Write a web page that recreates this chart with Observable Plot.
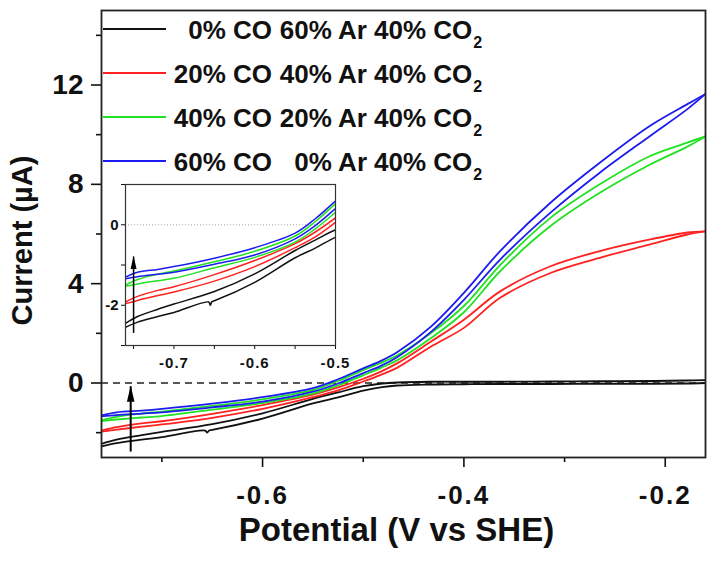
<!DOCTYPE html>
<html><head><meta charset="utf-8">
<script src="https://cdn.jsdelivr.net/npm/d3@7"></script>
<script src="https://cdn.jsdelivr.net/npm/@observablehq/plot@0.6"></script>
<style>
body{margin:0;background:#fff;}
#wrap{position:relative;width:714px;height:568px;font-family:"Liberation Sans",Arial,sans-serif;}
#main{position:absolute;left:0;top:0;}
#inset{position:absolute;left:85px;top:180px;}
#legend{position:absolute;left:103px;top:7px;display:grid;grid-template-columns:63px 106px 95px auto;grid-auto-rows:44px;align-items:center;font-weight:bold;font-size:26px;color:#111;white-space:nowrap;line-height:1;}
#legend .sw{height:2px;width:63px;}
#legend .c1,#legend .c2{text-align:right;padding-top:2px;}
#legend .c3{padding-left:7px;padding-top:2px;}
#legend .sub{font-size:16px;position:relative;top:9px;margin-left:1px;}
#main g[aria-label="x-axis tick label"] text{letter-spacing:2px;}
#inset g[aria-label="x-axis tick label"] text{letter-spacing:1px;}
</style></head>
<body><div id="wrap"><div id="main"></div><div id="inset"></div><div id="legend"></div></div>
<script>
// ---- data ----
const potential = [-0.76, -0.745, -0.72, -0.70, -0.65, -0.60, -0.55, -0.525, -0.50, -0.483, -0.466, -0.433, -0.40, -0.364, -0.314, -0.265, -0.215, -0.178, -0.16];
const blackFwd = [-2.45, -2.28, -2.10, -1.97, -1.66, -1.22, -0.64, -0.38, -0.13, -0.03, 0.02, 0.05, 0.05, 0.05, 0.06, 0.07, 0.08, 0.10, 0.12];
const blackRev = [-2.55, -2.42, -2.28, -2.18, -1.89, -1.43, -0.82, -0.58, -0.31, -0.18, -0.10, -0.06, -0.05, -0.04, -0.04, -0.03, -0.03, -0.02, 0.00];
const blackSpikeV = [-0.657, -0.655, -0.653];
const blackSpikeI = [-1.92, -2.00, -1.91];
const redFwd = [-1.92, -1.78, -1.63, -1.54, -1.24, -0.89, -0.47, -0.18, 0.17, 0.45, 0.80, 1.66, 2.55, 3.69, 4.70, 5.31, 5.78, 6.06, 6.11];
const redRev = [-1.96, -1.88, -1.76, -1.67, -1.40, -1.04, -0.57, -0.30, 0.06, 0.32, 0.62, 1.46, 2.22, 3.43, 4.43, 5.04, 5.58, 5.98, 6.11];
const greenFwd = [-1.50, -1.36, -1.23, -1.15, -0.92, -0.66, -0.28, 0.08, 0.52, 0.80, 1.12, 2.00, 3.10, 4.75, 6.65, 8.00, 9.14, 9.68, 9.93];
const greenRev = [-1.53, -1.47, -1.39, -1.33, -1.07, -0.81, -0.43, -0.10, 0.31, 0.60, 0.92, 1.80, 2.85, 4.50, 6.32, 7.66, 8.80, 9.52, 9.93];
const blueFwd = [-1.30, -1.18, -1.11, -1.04, -0.83, -0.57, -0.21, 0.15, 0.59, 0.88, 1.25, 2.26, 3.63, 5.31, 7.26, 8.87, 10.36, 11.23, 11.64];
const blueRev = [-1.34, -1.29, -1.23, -1.18, -0.98, -0.75, -0.35, -0.02, 0.40, 0.68, 1.05, 2.05, 3.35, 4.97, 6.86, 8.47, 9.95, 11.03, 11.64];

const seriesCO = ["0% CO", "20% CO", "40% CO", "60% CO"];
const seriesAr = ["60% Ar", "40% Ar", "20% Ar", "0% Ar"];
const seriesCO2 = ["40% CO", "40% CO", "40% CO", "40% CO"];
const colors = ["#111111", "#ff2020", "#22e022", "#1c1cf0"];

const xMajorTicks = [-0.6, -0.4, -0.2];
const xMinorTicks = [-0.7, -0.5, -0.3];
const yMajorTicks = [0, 4, 8, 12];
const yMinorTicks = [-2, 2, 6, 10, 14];
const insetXMajor = [-0.7, -0.6, -0.5];
const insetXMinor = [-0.75, -0.65, -0.55];
const insetYMajor = [-2, 0];
const insetYMinor = [-3, -1, 1];

const arrowMainX = [-0.731], arrowMainFrom = [-2.78], arrowMainTo = [-0.15];
const arrowInsetX = [-0.75], arrowInsetFrom = [-2.7], arrowInsetTo = [-0.8];

// ---- build tables ----
const branches = [[blackFwd, blackRev], [redFwd, redRev], [greenFwd, greenRev], [blueFwd, blueRev]];
const rows = [];
branches.forEach((pair, s) => pair.forEach((vals, b) => {
  const pts = potential.map((v, i) => ({V: v, I: vals[i]}));
  if (s === 0 && b === 1) {
    blackSpikeV.forEach((v, i) => pts.push({V: v, I: blackSpikeI[i]}));
    pts.sort((p, q) => p.V - q.V);
  }
  pts.forEach(p => rows.push({V: p.V, I: p.I, series: seriesCO[s], key: s + "-" + b}));
}));
const mainArrow = arrowMainX.map((x, i) => ({x, y1: arrowMainFrom[i], y2: arrowMainTo[i]}));
const insetArrow = arrowInsetX.map((x, i) => ({x, y1: arrowInsetFrom[i], y2: arrowInsetTo[i]}));

const head = (w, h) => ({draw(ctx) { ctx.moveTo(0, -1); ctx.lineTo(w, h); ctx.lineTo(-w, h); ctx.closePath(); }});
const font = "'Liberation Sans', Arial, sans-serif";

const main = Plot.plot({
  width: 714, height: 568,
  marginLeft: 101, marginRight: 9, marginTop: 10, marginBottom: 111,
  style: {fontFamily: font, background: "transparent", color: "#111"},
  x: {domain: [-0.76, -0.16]},
  y: {domain: [-3, 15]},
  color: {domain: seriesCO, range: colors},
  marks: [
    Plot.ruleY([0], {stroke: "#222", strokeDasharray: "7,5", strokeWidth: 1.4}),
    Plot.line(rows, {x: "V", y: "I", z: "key", stroke: "series", strokeWidth: 1.8, curve: "catmull-rom", clip: true}),
    Plot.ruleX(mainArrow, {x: "x", y1: "y1", y2: "y2", strokeWidth: 2, stroke: "#000"}),
    Plot.dot(mainArrow, {x: "x", y: "y2", symbol: head(3.8, 15), fill: "#000", stroke: "none"}),
    Plot.axisX({ticks: xMinorTicks, tickSize: 5, tickFormat: () => "", label: null, strokeWidth: 1.6}),
    Plot.axisX({ticks: xMajorTicks, tickSize: 10, tickPadding: 18, tickFormat: d => d.toFixed(1), label: null, fontSize: 26, fontWeight: "bold", strokeWidth: 1.6}),
    Plot.axisY({ticks: yMinorTicks, tickSize: 5, tickFormat: () => "", label: null, strokeWidth: 1.6}),
    Plot.axisY({ticks: yMajorTicks, tickSize: 10, tickPadding: 8, tickFormat: d => String(d), label: null, fontSize: 28, fontWeight: "bold", strokeWidth: 1.6}),
    Plot.frame({stroke: "#222", strokeWidth: 1.8}),
    Plot.text(["Potential (V vs SHE)"], {text: d => d, frameAnchor: "bottom", dx: -7, dy: 83.5, fontSize: 33, fontWeight: "bold", textAnchor: "middle"}),
    Plot.text(["Current (\u00b5A)"], {text: d => d, frameAnchor: "left", rotate: -90, dx: -79, dy: 6.5, fontSize: 29, fontWeight: "bold", textAnchor: "middle"})
  ]
});
document.getElementById("main").appendChild(main);

const inset = Plot.plot({
  width: 290, height: 200,
  marginLeft: 40, marginRight: 40, marginTop: 4, marginBottom: 35,
  style: {fontFamily: font, background: "transparent", color: "#111", overflow: "visible"},
  x: {domain: [-0.76, -0.5]},
  y: {domain: [-3, 1]},
  color: {domain: seriesCO, range: colors},
  marks: [
    Plot.ruleY([0], {stroke: "#aaa", strokeDasharray: "1,2", strokeWidth: 1}),
    Plot.line(rows, {x: "V", y: "I", z: "key", stroke: "series", strokeWidth: 1.5, curve: "catmull-rom", clip: true}),
    Plot.ruleX(insetArrow, {x: "x", y1: "y1", y2: "y2", strokeWidth: 1.5, stroke: "#000"}),
    Plot.dot(insetArrow, {x: "x", y: "y2", symbol: head(3, 12), fill: "#000", stroke: "none"}),
    Plot.axisX({ticks: insetXMinor, tickSize: 4, tickFormat: () => "", label: null}),
    Plot.axisX({ticks: insetXMajor, tickSize: 4, tickPadding: 8, tickFormat: d => d.toFixed(1), label: null, fontSize: 15, fontWeight: "bold"}),
    Plot.axisY({ticks: insetYMinor, tickSize: 4, tickFormat: () => "", label: null}),
    Plot.axisY({ticks: insetYMajor, tickSize: 4, tickPadding: 3, tickFormat: d => String(d), label: null, fontSize: 15, fontWeight: "bold"}),
    Plot.frame({stroke: "#333", strokeWidth: 1.2})
  ]
});
document.getElementById("inset").appendChild(inset);

// ---- legend ----
const legend = document.getElementById("legend");
seriesCO.forEach((name, i) => {
  const sw = document.createElement("div"); sw.className = "sw"; sw.style.background = colors[i];
  const c1 = document.createElement("div"); c1.className = "c1"; c1.textContent = name;
  const c2 = document.createElement("div"); c2.className = "c2"; c2.textContent = seriesAr[i];
  const c3 = document.createElement("div"); c3.className = "c3";
  c3.innerHTML = seriesCO2[i] + '<span class="sub">2</span>';
  legend.append(sw, c1, c2, c3);
});
</script>
</body></html>
